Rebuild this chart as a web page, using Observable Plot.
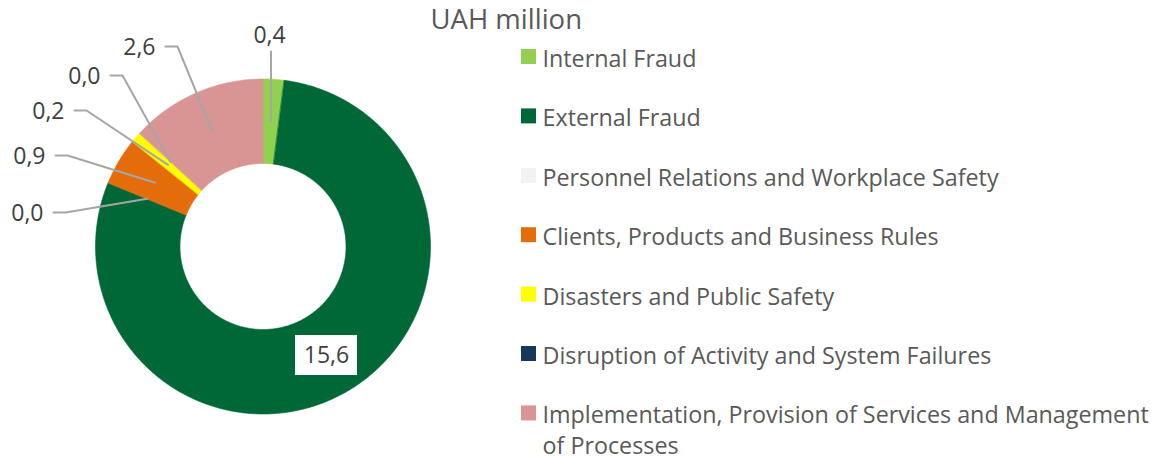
<!DOCTYPE html>
<html><head><meta charset="utf-8">
<script src="https://cdn.jsdelivr.net/npm/d3@7"></script>
<script src="https://cdn.jsdelivr.net/npm/@observablehq/plot@0.6"></script>
<style>html,body{margin:0;padding:0;background:#fff}#chart svg{display:block}</style>
</head><body><div id="chart"></div>
<script>
// ---- data ----
const categories = [
  "Internal Fraud",
  "External Fraud",
  "Personnel Relations and Workplace Safety",
  "Clients, Products and Business Rules",
  "Disasters and Public Safety",
  "Disruption of Activity and System Failures",
  "Implementation, Provision of Services and Management of Processes"
];
const values = [0.4, 15.6, 0.0, 0.9, 0.2, 0.0, 2.6];
const colors = ["#92D050", "#006837", "#F2F2F2", "#E46C0A", "#FFFF00", "#17375E", "#D99594"];
const unitTitle = "UAH million";

// ---- layout (pixel space) ----
const W = 1160, H = 459;
const cx = 262.5, cy = 246, rOuter = 167.5, rInner = 83;
const font = "'Open Sans', sans-serif";
// manual data-label placement (Excel-style dragged labels)
const labelPos = [
  {x: 269, y: 35, anchor: "middle", leader: "vertical"},
  {x: 326, y: 355, anchor: "middle", box: true},
  {x: 43, y: 213, anchor: "end", leader: "elbow"},
  {x: 45, y: 156, anchor: "end", leader: "elbow"},
  {x: 64, y: 111, anchor: "end", leader: "elbow"},
  {x: 100, y: 76, anchor: "end", leader: "elbow"},
  {x: 155, y: 47, anchor: "end", leader: "elbow"}
];
const legend = {x: 521, size: 15, y0: 56.5, step: 59.4, textX: 542, fontSize: 23.3, lineHeight: 1.33};

const fmt = v => v.toFixed(1).replace(".", ",");
const data = categories.map((name, i) => ({name, value: values[i], color: colors[i], i}));
const arcs = d3.pie().sort(null).value(d => d.value)(data);

const pt = (r, a) => ({x: cx + r * Math.sin(a), y: cy - r * Math.cos(a)});

// slice polygons
const slicePts = [];
for (const a of arcs) {
  if (a.endAngle - a.startAngle <= 0) continue;
  const n = Math.max(4, Math.ceil((a.endAngle - a.startAngle) / 0.01));
  for (let k = 0; k <= n; k++) {
    const t = a.startAngle + (a.endAngle - a.startAngle) * k / n;
    slicePts.push({name: a.data.name, ...pt(rOuter, t)});
  }
  for (let k = n; k >= 0; k--) {
    const t = a.startAngle + (a.endAngle - a.startAngle) * k / n;
    slicePts.push({name: a.data.name, ...pt(rInner, t)});
  }
}

// labels & leaders
const labels = arcs.map(a => {
  const p = labelPos[a.data.i];
  const mid = (a.startAngle + a.endAngle) / 2;
  const anchorPt = pt((rOuter + rInner) / 2, mid);
  return {name: a.data.name, text: fmt(a.data.value), ...p, ax: anchorPt.x, ay: anchorPt.y};
});
const leaderPts = [];
for (const l of labels) {
  if (l.leader === "vertical") {
    leaderPts.push({name: l.name, x: l.ax, y: l.y + 16});
    leaderPts.push({name: l.name, x: l.ax, y: l.ay});
  } else if (l.leader === "elbow") {
    const ly = l.y - 1;
    leaderPts.push({name: l.name, x: l.x + 10, y: ly});
    leaderPts.push({name: l.name, x: l.x + 22, y: ly});
    leaderPts.push({name: l.name, x: l.ax, y: l.ay});
  }
}
const boxes = labels.filter(l => l.box);

// legend rows
function wrap(s, maxChars) {
  const words = s.split(" "); const lines = []; let cur = "";
  for (const w of words) {
    if (cur && (cur + " " + w).length > maxChars) { lines.push(cur); cur = w; }
    else cur = cur ? cur + " " + w : w;
  }
  lines.push(cur); return lines.join("\n");
}
const legendRows = data.map((d, i) => {
  const label = wrap(d.name, 52);
  const nLines = label.split("\n").length;
  const rowY = legend.y0 + i * legend.step;
  return {...d, rowY, label, textY: rowY + (nLines - 1) * legend.lineHeight * legend.fontSize / 2};
});

const chart = Plot.plot({
  width: W, height: H,
  margin: 0,
  x: {domain: [0, W], range: [0, W], axis: null},
  y: {domain: [0, H], range: [0, H], axis: null},
  color: {domain: categories, range: colors},
  style: {fontFamily: font, background: "#fff"},
  marks: [
    Plot.line(slicePts, {x: "x", y: "y", z: "name", fill: "name", stroke: "name", strokeWidth: 0.6, curve: "linear-closed"}),
    Plot.line(leaderPts, {x: "x", y: "y", z: "name", stroke: "#A6A6A6", strokeWidth: 2}),
    Plot.rect(boxes, {x1: d => d.x - 31, x2: d => d.x + 31, y1: d => d.y - 20, y2: d => d.y + 20, fill: "#fff"}),
    Plot.text(labels.filter(l => l.anchor === "middle"), {x: "x", y: "y", text: "text", textAnchor: "middle", fill: "#404040", fontSize: 23, lineAnchor: "middle"}),
    Plot.text(labels.filter(l => l.anchor === "end"), {x: "x", y: "y", text: "text", textAnchor: "end", fill: "#404040", fontSize: 23, lineAnchor: "middle"}),
    Plot.text([unitTitle], {x: 430, y: 20, text: d => d, textAnchor: "start", fill: "#595959", fontSize: 27.5, lineAnchor: "middle"}),
    Plot.rect(legendRows, {x1: legend.x, x2: legend.x + legend.size, y1: d => d.rowY - legend.size / 2, y2: d => d.rowY + legend.size / 2, fill: "name"}),
    Plot.text(legendRows, {x: legend.textX, y: "textY", text: "label", textAnchor: "start", lineAnchor: "middle", lineHeight: legend.lineHeight, fill: "#595959", fontSize: legend.fontSize})
  ]
});
document.getElementById("chart").appendChild(chart);
</script>
</body></html>
